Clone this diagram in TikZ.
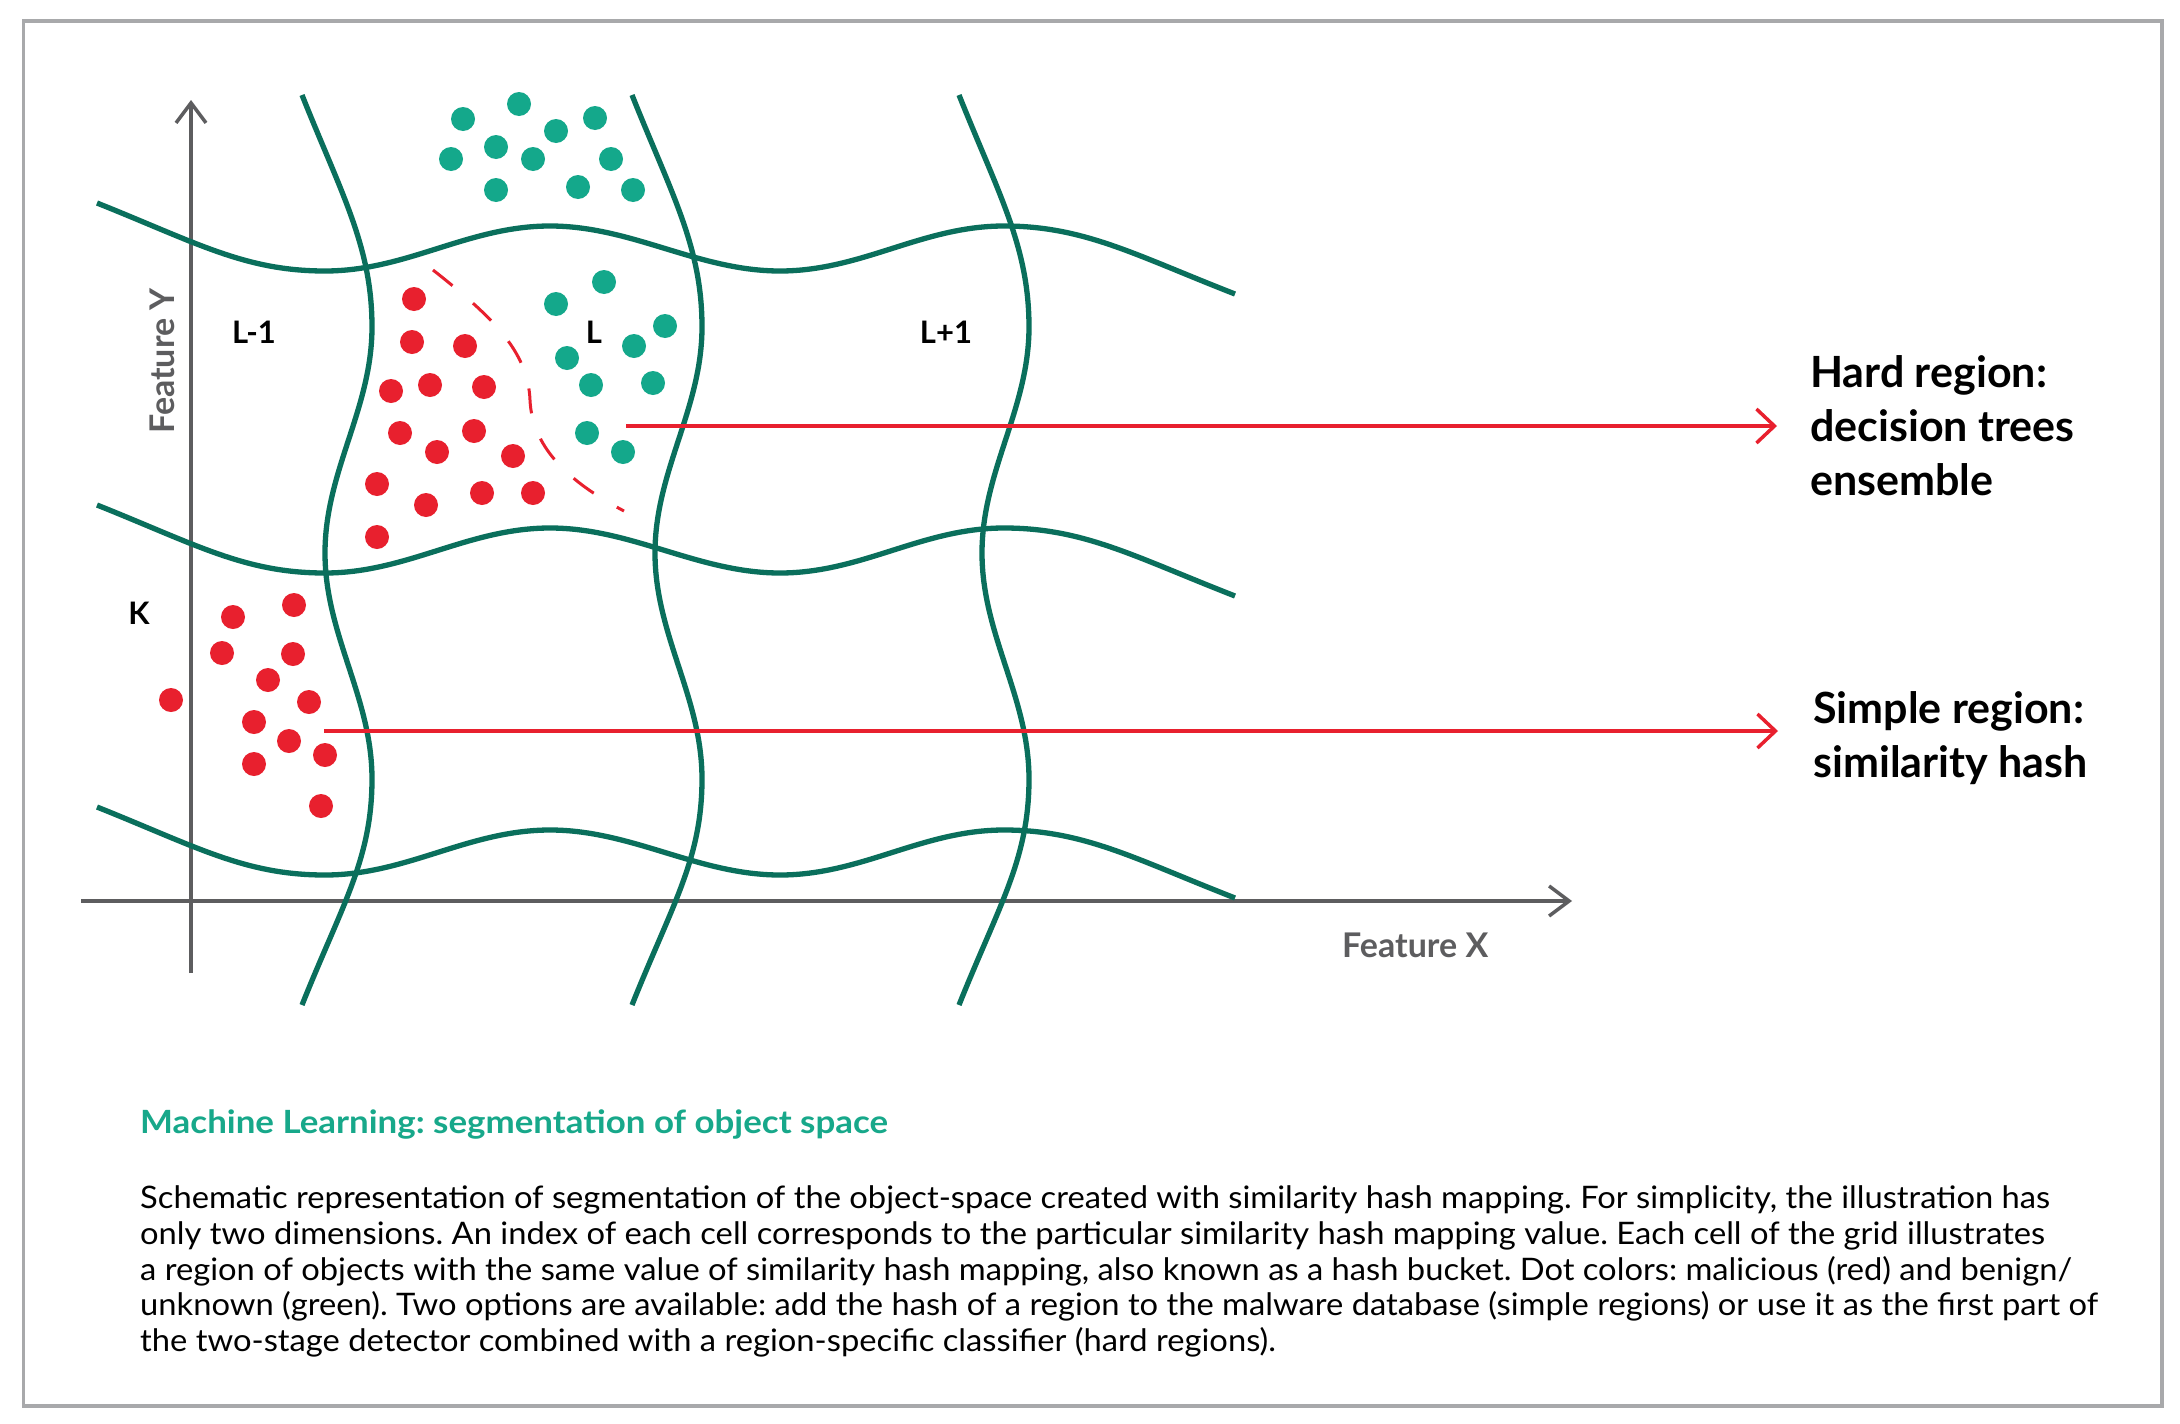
\documentclass[tikz,border=0pt]{standalone}
\usepackage{fontspec}
\setmainfont{Lato}
\newfontfamily\bodyfont{Lato}[FakeStretch=1.055]
\newfontfamily\titlefont{Lato}[FakeStretch=1.09]
\usetikzlibrary{arrows.meta}
\definecolor{gridc}{HTML}{0A6F5C}
\definecolor{dotg}{HTML}{14A88B}
\definecolor{dotr}{HTML}{E8202E}
\definecolor{axisc}{HTML}{5D5D5F}
\definecolor{framec}{HTML}{A8A9AB}
\definecolor{ttl}{HTML}{17A88A}
\frenchspacing
\begin{document}
\begin{tikzpicture}[x=1pt,y=-1pt,
  gridline/.style={gridc, line width=5.3pt},
  axisline/.style={axisc, line width=3.5pt},
  redarrow/.style={dotr, line width=3.5pt, -{Straight Barb[length=18pt,width=34pt]}},
  gdot/.style={fill=dotg},
  rdot/.style={fill=dotr},
  lbl/.style={inner sep=0pt, font=\bfseries\fontsize{31}{31}\selectfont},
  axlbl/.style={inner sep=0pt, text=axisc, font=\bfseries\fontsize{34}{34}\selectfont},
  bigtxt/.style={inner sep=0pt, anchor=base west, font=\bfseries\fontsize{43}{43}\selectfont},
  bodytxt/.style={inner sep=0pt, anchor=base west, font=\bodyfont\fontsize{31}{36}\selectfont},
  ttltxt/.style={inner sep=0pt, anchor=base west, text=ttl, font=\titlefont\bfseries\fontsize{32}{32}\selectfont}
]
\useasboundingbox (0,0) rectangle (2180,1424);
\fill[white] (0,0) rectangle (2180,1424);
\draw[framec, line width=3.5pt] (23.5,21) rectangle (2162,1406);

% axes
\coordinate (ybot) at (191,973);
\coordinate (ytop) at (191,100);
\coordinate (xleft) at (81,901);
\coordinate (xright) at (1572,901);
\draw[axisline, -{Straight Barb[length=20pt,width=30pt]}] (ybot) -- (ytop);
\draw[axisline, -{Straight Barb[length=20pt,width=30pt]}] (xleft) -- (xright);

% horizontal wavy lines
\foreach \d in {0,302,604}{
\begin{scope}[shift={(0,\d)}]
\draw[gridline] (97,203) .. controls (197,243) and (245,271) .. (325,271)
  .. controls (407,271) and (468,226) .. (550,226)
  .. controls (632,226) and (698,271) .. (780,271)
  .. controls (862,271) and (922,226) .. (1004,226)
  .. controls (1084,226) and (1135,255) .. (1235,294);
\end{scope}}
% vertical wavy lines
\foreach \d in {0,330,657}{
\begin{scope}[shift={(\d,0)}]
\draw[gridline] (302,95) .. controls (342,195) and (372,247) .. (372,327)
  .. controls (372,409) and (325,471) .. (325,553)
  .. controls (325,635) and (372,697) .. (372,779)
  .. controls (372,859) and (342,905) .. (302,1005);
\end{scope}}

% dashed decision boundary
\draw[dotr, line width=3pt, dash pattern=on 25pt off 27pt]
  (433,270) .. controls (490,315) and (528,350) .. (530,400)
  .. controls (532,445) and (565,480) .. (624,511);

% dots
\foreach \x/\y in {463/119,519/104,595/118,556/131,496/147,451/159,533/159,611/159,496/190,578/187,633/190,
  604/282,556/304,665/326,634/346,567/358,591/385,653/383,587/433,623/452}
  \fill[gdot] (\x,\y) circle (12);
\foreach \x/\y in {414/299,412/342,465/346,391/391,430/385,484/387,400/433,474/431,437/452,513/456,377/484,426/505,482/493,533/493,377/537,
  294/605,233/617,222/653,293/654,268/680,171/700,309/702,254/722,289/741,325/755,254/764,321/806}
  \fill[rdot] (\x,\y) circle (12);

% labels
\node[lbl, anchor=base] (lm1) at (254,343) {L-1};
\node[lbl, anchor=base] (lc) at (594,343) {L};
\node[lbl, anchor=base] (lp1) at (946,343) {L+1};
\node[lbl, anchor=base] (kk) at (139,624) {K};
\node[axlbl, anchor=base west] (fx) at (1342,957) {Feature X};
\node[axlbl, rotate=90, anchor=base] (fy) at (174,361) {Feature Y};

% right texts
\node[bigtxt] (hard1) at (1810,387) {Hard region:};
\node[bigtxt] (hard2) at (1810,441) {decision trees};
\node[bigtxt] (hard3) at (1810,495) {ensemble};
\node[bigtxt] (simp1) at (1813,723) {Simple region:};
\node[bigtxt] (simp2) at (1813,777) {similarity hash};

% red arrows
\coordinate (hs) at (626,426);
\coordinate (he) at (1777,426);
\coordinate (ss) at (324,731);
\coordinate (se) at (1778,731);
\draw[redarrow] (hs) -- (he);
\draw[redarrow] (ss) -- (se);

% caption
\node[ttltxt] (title) at (140,1133) {Machine Learning: segmentation of object space};
\node[bodytxt] (b1) at (140,1208) {Schematic representation of segmentation of the object-space created with similarity hash mapping. For simplicity, the illustration has};
\node[bodytxt] (b2) at (140,1244) {only two dimensions. An index of each cell corresponds to the particular similarity hash mapping value. Each cell of the grid illustrates};
\node[bodytxt] (b3) at (140,1280) {a region of objects with the same value of similarity hash mapping, also known as a hash bucket. Dot colors: malicious (red) and benign/};
\node[bodytxt] (b4) at (140,1315) {unknown (green). Two options are available: add the hash of a region to the malware database (simple regions) or use it as the first part of};
\node[bodytxt] (b5) at (140,1351) {the two-stage detector combined with a region-specific classifier (hard regions).};
\end{tikzpicture}
\end{document}
